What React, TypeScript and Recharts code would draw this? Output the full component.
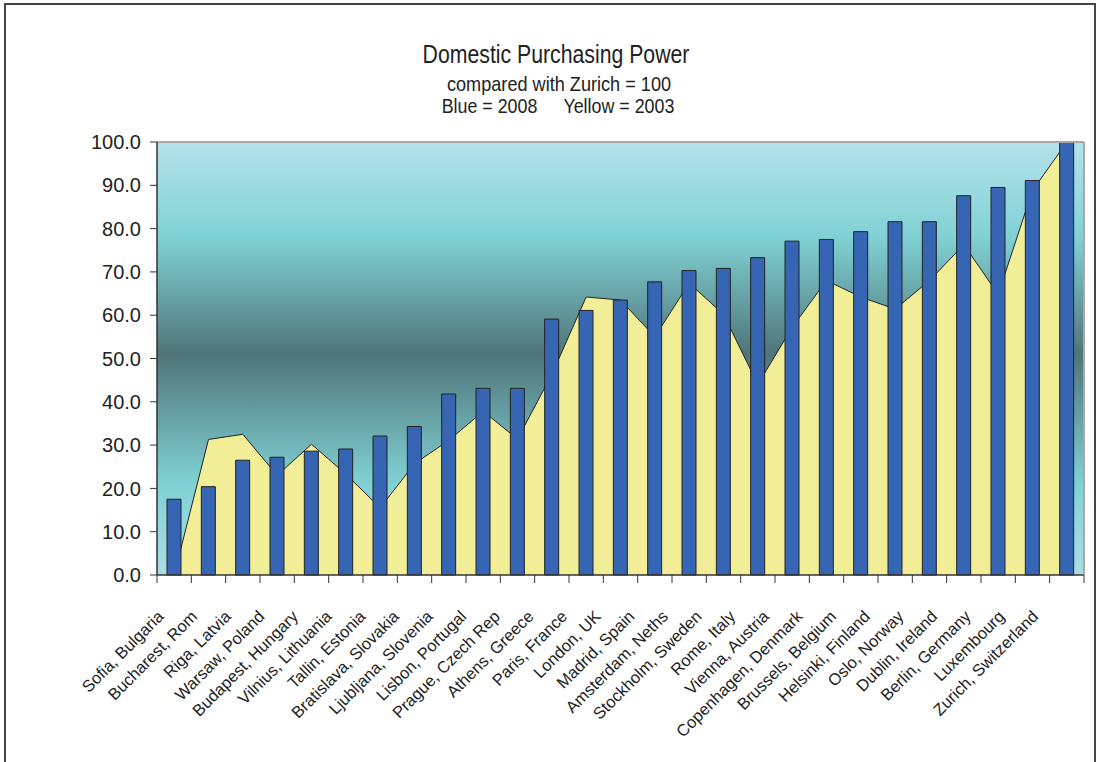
import React from 'react';
import { ComposedChart, Area, Bar, XAxis, YAxis, CartesianGrid } from 'recharts';

const cities = [
  'Sofia, Bulgaria', 'Bucharest, Rom', 'Riga, Latvia', 'Warsaw, Poland', 'Budapest, Hungary',
  'Vilnius, Lithuania', 'Tallin, Estonia', 'Bratislava, Slovakia', 'Ljubljana, Slovenia',
  'Lisbon, Portugal', 'Prague, Czech Rep', 'Athens, Greece', 'Paris, France', 'London, UK',
  'Madrid, Spain', 'Amsterdam, Neths', 'Stockholm, Sweden', 'Rome, Italy', 'Vienna, Austria',
  'Copenhagen, Denmark', 'Brussels, Belgium', 'Helsinki, Finland', 'Oslo, Norway',
  'Dublin, Ireland', 'Berlin, Germany', 'Luxembourg', 'Zurich, Switzerland',
];

// Blue = 2008
const power2008 = [
  17.5, 20.4, 26.5, 27.2, 28.6, 29.1, 32.1, 34.3, 41.8, 43.1, 43.1, 59.1, 61.1, 63.5,
  67.7, 70.3, 70.8, 73.3, 77.1, 77.5, 79.3, 81.6, 81.6, 87.6, 89.5, 91.1, 100,
];

// Yellow = 2003
const power2003 = [
  0, 31.3, 32.5, 23.0, 30.2, 23.3, 15.5, 25.7, 31.1, 37.8, 31.4, 46.3, 64.2, 63.5,
  55.0, 67.4, 60.2, 44.0, 57.2, 68.0, 64.2, 61.4, 68.0, 76.3, 64.8, 88.8, 100,
];

const yTicks = [0, 10, 20, 30, 40, 50, 60, 70, 80, 90, 100];

const data = cities.map((city, i) => ({ city, y2008: power2008[i], y2003: power2003[i] }));

const FONT = "'Liberation Sans', Arial, sans-serif";
const PLOT_LEFT = 157;
const PLOT_RIGHT = 1084;
const BAND = (PLOT_RIGHT - PLOT_LEFT) / cities.length;

function CityTick(props: any) {
  const { x, y, payload, index } = props;
  const half = BAND / 2;
  const last = index === cities.length - 1;
  return (
    <g>
      <line x1={x - half} y1={y} x2={x - half} y2={y + 8} stroke="#333" strokeWidth={1} />
      {last && <line x1={x + half} y1={y} x2={x + half} y2={y + 8} stroke="#333" strokeWidth={1} />}
      <text
        transform={`translate(${x - 9.5 - 0.7 * index},${y + 42.5}) rotate(-45)`}
        textAnchor="end"
        fontSize={16.5}
        fontFamily={FONT}
        fill="#222"
      >
        {payload.value}
      </text>
    </g>
  );
}

export default function App() {
  return (
    <div style={{ position: 'absolute', left: 0, top: 0, width: 1099, height: 762, background: '#fff', overflow: 'hidden' }}>
      <div
        style={{
          position: 'absolute', left: 4, top: 3, width: 1092, height: 770,
          border: '2px solid #444', boxSizing: 'border-box',
        }}
      />
      <ComposedChart
        width={1099}
        height={762}
        data={data}
        margin={{ top: 141, right: 14, bottom: 37, left: 97 }}
      >
        <defs>
          <linearGradient id="plotBg" x1="0" y1="0" x2="0" y2="1">
            <stop offset="0%" stopColor="#b5e2ec" />
            <stop offset="22%" stopColor="#80d1d4" />
            <stop offset="49%" stopColor="#4f7579" />
            <stop offset="79%" stopColor="#80d1d4" />
            <stop offset="100%" stopColor="#aadde6" />
          </linearGradient>
        </defs>
        <CartesianGrid horizontal={false} vertical={false} fill="url(#plotBg)" stroke="none" />
        <XAxis
          dataKey="city"
          interval={0}
          height={150}
          tickSize={0}
          tickMargin={0}
          tickLine={false}
          axisLine={{ stroke: '#333', strokeWidth: 1.5 }}
          tick={<CityTick />}
        />
        <XAxis xAxisId="top" dataKey="city" orientation="top" height={1} tick={false} tickLine={false}
          axisLine={{ stroke: '#a8a8a8', strokeWidth: 2 }} />
        <YAxis
          yAxisId="left"
          domain={[0, 100]}
          ticks={yTicks}
          width={60}
          tickSize={7}
          tickMargin={9}
          tickFormatter={(v: number) => v.toFixed(1)}
          tick={{ fontSize: 20, fill: '#222', fontFamily: FONT }}
          tickLine={{ stroke: '#333' }}
          axisLine={{ stroke: '#333', strokeWidth: 1.5 }}
        />
        <YAxis yAxisId="right" orientation="right" domain={[0, 100]} width={1} tick={false} tickLine={false}
          axisLine={{ stroke: '#a8a8a8', strokeWidth: 2 }} />
        <Area
          yAxisId="left"
          type="linear"
          dataKey="y2003"
          fill="#f2ee97"
          fillOpacity={1}
          stroke="#222"
          strokeWidth={1}
          isAnimationActive={false}
        />
        <Bar
          yAxisId="left"
          dataKey="y2008"
          barSize={14}
          fill="#3666b3"
          stroke="#222"
          strokeWidth={1}
          isAnimationActive={false}
        />
      </ComposedChart>
      <svg width={1099} height={130} style={{ position: 'absolute', left: 0, top: 0, pointerEvents: 'none' }}>
        <g fontFamily={FONT} fill="#222">
          <text transform="translate(556,63.3) scale(0.85,1)" textAnchor="middle" fontSize={25}>
            Domestic Purchasing Power
          </text>
          <text transform="translate(559,90.7) scale(0.93,1)" textAnchor="middle" fontSize={19.5}>
            compared with Zurich = 100
          </text>
          <text transform="translate(441.7,113.3) scale(0.87,1)" textAnchor="start" fontSize={20.5}>
            Blue = 2008
          </text>
          <text transform="translate(674.3,113.3) scale(0.87,1)" textAnchor="end" fontSize={20.5}>
            Yellow = 2003
          </text>
        </g>
      </svg>
    </div>
  );
}
